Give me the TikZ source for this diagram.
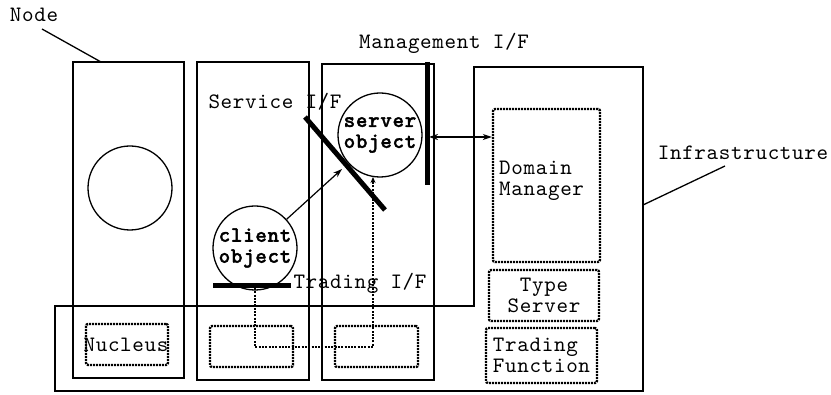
\documentclass[tikz,border=0pt]{standalone}
\usepackage{fontspec}
\newfontfamily\cour{lmmono10-regular.otf}[BoldFont=lmmonolt10-bold.otf, BoldFeatures={FakeBold=1.5}, LetterSpace=3.0]
\usetikzlibrary{arrows.meta,calc}
\begin{document}
\begin{tikzpicture}[x=1pt,y=-1pt,
  every node/.style={font=\cour\fontsize{22}{21}\selectfont, inner sep=0pt},
  nodebox/.style={draw, line width=1.3pt, minimum width=112pt, minimum height=316pt},
  obj/.style={draw, circle, line width=1.3pt, minimum size=84pt, align=center,
              font=\cour\bfseries\fontsize{22}{21}\selectfont},
  dotbox/.style={draw, line width=2.4pt, dash pattern=on 2pt off 1pt, rounded corners=2pt, align=left},
  ifbar/.style={line width=5pt},
  leader/.style={line width=1.3pt},
  conn/.style={line width=1.2pt, -{Stealth[length=9pt,width=6pt]}},
  dconn/.style={line width=1.5pt, dash pattern=on 2pt off 1.3pt, -{Stealth[length=6pt,width=5pt]}}
]
\useasboundingbox (0,0) rectangle (831,395);

% infrastructure outline
\draw[line width=2.2pt] (55,391) -- (55,306) -- (474,306) -- (474,67) -- (643,67) -- (643,391) -- cycle;

% node boxes
\node[nodebox, minimum width=111pt] (n1) at (128.5,220) {};
\node[nodebox, minimum height=318pt] (n2) at (253,221) {};
\node[nodebox] (n3) at (378,222) {};

% objects
\node[obj] (c0) at (130,188) {};
\node[obj] (client) at (255,248) {client\\object};
\node[obj] (server) at (380,135) {server\\object};

% dotted boxes
\node[dotbox, minimum width=107pt, minimum height=153pt] (dm) at (546.5,185.5) {};
\node[anchor=west, align=left] (dmtext) at (499,181) {Domain\\Manager};
\node[dotbox, minimum width=110pt, minimum height=51pt, align=center] (ts) at (544,295.5) {Type\\Server};
\node[dotbox, minimum width=111pt, minimum height=55pt] (tf) at (541.5,355.5) {Trading\\Function};
\node[dotbox, minimum width=82pt, minimum height=41pt] (nb1) at (127,344.5) {};
\node (nuc) at (126,345) {Nucleus};
\node[dotbox, minimum width=83pt, minimum height=41pt] (nb2) at (251.5,346.5) {};
\node[dotbox, minimum width=83pt, minimum height=41pt] (nb3) at (376.5,346.5) {};

% interfaces
\coordinate (sifA) at (305,117);
\coordinate (sifB) at (385,210);
\draw[ifbar] (sifA) -- (sifB);
\coordinate (mifA) at (427,62);
\coordinate (mifB) at (427,185);
\draw[ifbar] (mifA) -- (mifB);
\coordinate (tifA) at (213,286);
\coordinate (tifB) at (291,286);
\draw[ifbar] (tifA) -- (tifB);

% labels
\node (lnode) at (34,15) {Node};
\node (lmgmt) at (444,43) {Management I/F};
\node (lsif) at (275,102) {Service I/F};
\node (ltif) at (360,283) {Trading I/F};
\node (linfra) at (743,153) {Infrastructure};

% leader lines
\coordinate (nodeA) at (42,29);
\coordinate (nodeB) at (101,62);
\draw[leader] (nodeA) -- (nodeB);
\coordinate (infA) at (725,166);
\coordinate (infB) at (643,205);
\draw[leader] (infA) -- (infB);

% connectors
\coordinate (sifhit) at (342,169);
\draw[conn] (client) -- (sifhit);
\coordinate (mpt) at (429,137);
\draw[line width=1.2pt, {Stealth[length=9pt,width=6pt]}-{Stealth[length=9pt,width=6pt]}] (mpt) -- (mpt -| dm.west);
\coordinate (tpt) at (255,288);
\coordinate (tcorner1) at (255,347);
\coordinate (tcorner2) at (373,347);
\coordinate (tend) at (373,177);
\draw[dconn] (tpt) -- (tcorner1) -- (tcorner2) -- (tend);
\end{tikzpicture}
\end{document}
